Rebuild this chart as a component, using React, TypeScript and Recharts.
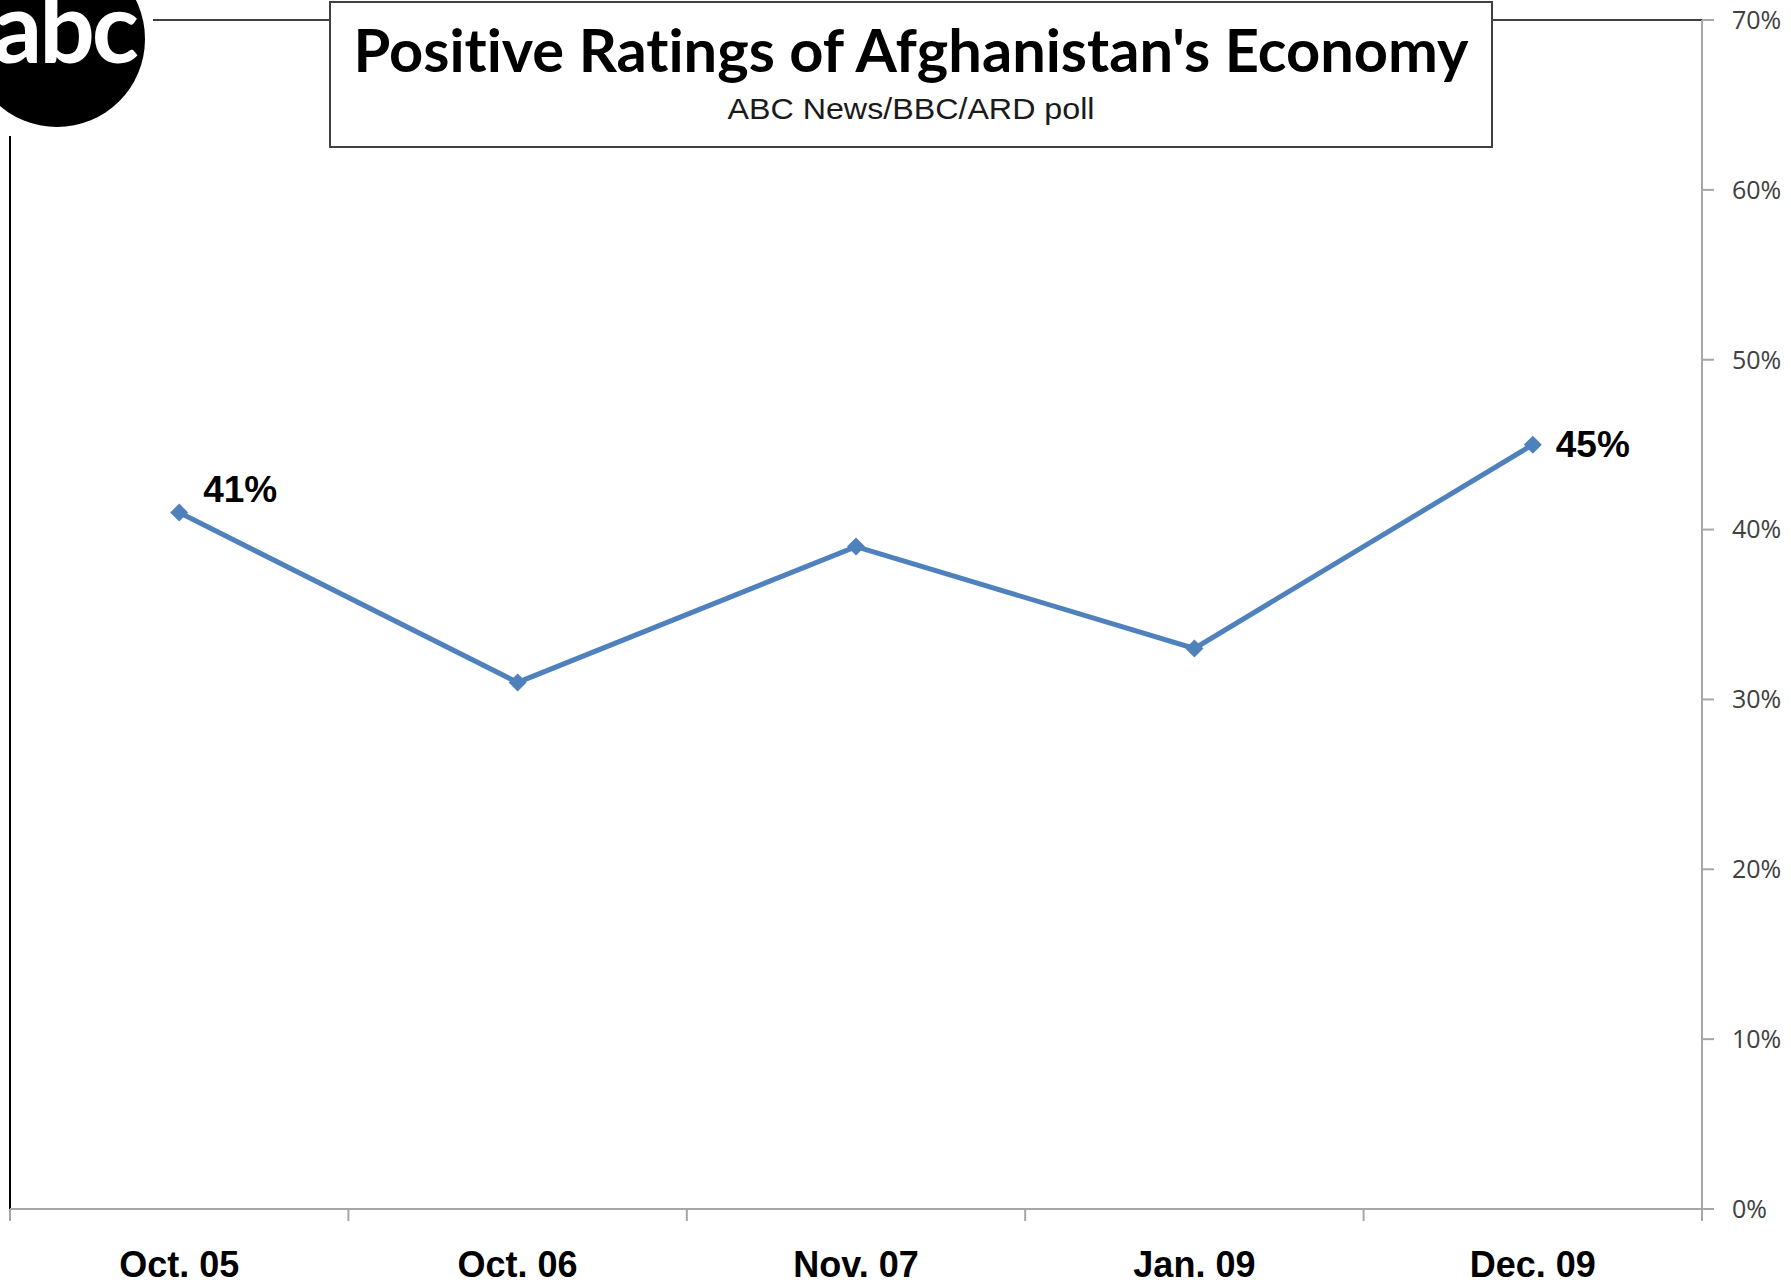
import { LabelList, Line, LineChart, ReferenceLine, XAxis, YAxis } from 'recharts';

const categories = ['Oct. 05', 'Oct. 06', 'Nov. 07', 'Jan. 09', 'Dec. 09'];
const positive = [41, 31, 39, 33, 45];
const yTicks = [0, 10, 20, 30, 40, 50, 60, 70];

// categories sit in the middle of each band, tick marks sit on the band edges
const chartData = categories.map((c, i) => ({ cat: c, pos: i + 0.5, valor: positive[i] }));
const xTicks = categories.flatMap((_, i) => [i, i + 0.5]).concat([categories.length]);

const azul = '#4f81bd';
const cinza = '#a6a6a6';

const XTick = (props: any) => {
  const { x, y, payload } = props;
  const v = payload.value;
  if (Number.isInteger(v)) {
    return <line x1={x} x2={x} y1={y} y2={y + 12} stroke={cinza} strokeWidth={2} />;
  }
  return (
    <text x={x} y={y + 68} textAnchor="middle" fontFamily="'Liberation Sans', Arial" fontWeight={700} fontSize={36} fill="#000">
      {categories[Math.floor(v)]}
    </text>
  );
};

const Diamante = (props: any) => {
  const { cx, cy, index } = props;
  const r = 9;
  return <polygon key={index} points={`${cx},${cy - r} ${cx + r},${cy} ${cx},${cy + r} ${cx - r},${cy}`} fill={azul} />;
};

const Rotulo = (props: any) => {
  const { x, y, value, index } = props;
  if (index === 0) {
    return (
      <text x={x + 24} y={y - 23} dominantBaseline="central" fontFamily="'Liberation Sans', Arial" fontWeight={700} fontSize={37} fill="#000">
        {value}%
      </text>
    );
  }
  if (index === chartData.length - 1) {
    return (
      <text x={x + 23} y={y} dominantBaseline="central" fontFamily="'Liberation Sans', Arial" fontWeight={700} fontSize={37} fill="#000">
        {value}%
      </text>
    );
  }
  return null;
};

const App = () => {
  return (
    <div style={{ position: 'absolute', left: 0, top: 0, width: 1791, height: 1287, background: '#fff' }}>
      <LineChart width={1791} height={1287} data={chartData} margin={{ top: 20, right: 0, left: 10, bottom: 0 }}>
        <XAxis
          dataKey="pos"
          type="number"
          domain={[0, categories.length]}
          ticks={xTicks}
          interval={0}
          height={78}
          tickSize={0}
          tickMargin={0}
          tickLine={false}
          axisLine={{ stroke: cinza, strokeWidth: 2 }}
          tick={<XTick />}
        />
        <YAxis
          orientation="right"
          type="number"
          domain={[0, 70]}
          ticks={yTicks}
          width={89}
          tickSize={12}
          tickMargin={18}
          tickFormatter={(v) => `${v}%`}
          axisLine={{ stroke: cinza, strokeWidth: 2 }}
          tickLine={{ stroke: cinza, strokeWidth: 2 }}
          tick={{ fill: '#404040', fontSize: 25, fontFamily: "'Open Sans'" }}
        />
        <ReferenceLine y={70} stroke="#404040" strokeWidth={2} />
        <ReferenceLine x={0} stroke="#000" strokeWidth={2} />
        <Line
          type="linear"
          dataKey="valor"
          stroke={azul}
          strokeWidth={5}
          dot={<Diamante />}
          activeDot={false}
          isAnimationActive={false}
        >
          <LabelList dataKey="valor" content={<Rotulo />} />
        </Line>
      </LineChart>

      <svg width={1791} height={1287} style={{ position: 'absolute', left: 0, top: 0, pointerEvents: 'none' }}>
        {/* logo abc */}
        <rect x={0} y={0} width={153} height={136} fill="#fff" />
        <circle cx={57} cy={39} r={88} fill="#000" />
        <text x={136} y={63} textAnchor="end" fontFamily="Lato" fontWeight={700} fontSize={98} letterSpacing={-3} fill="#fff">
          abc
        </text>
        {/* caixa do titulo */}
        <rect x={330} y={2} width={1162} height={145} fill="#fff" stroke="#404040" strokeWidth={2} />
        <text x={911} y={72} textAnchor="middle" fontFamily="Lato" fontWeight={700} fontSize={60} textLength={1115} lengthAdjust="spacingAndGlyphs" style={{ fontVariantLigatures: 'none' }} fill="#000">
          Positive Ratings of Afghanistan's Economy
        </text>
        <text x={911} y={119} textAnchor="middle" fontFamily="'Liberation Sans', Arial" fontSize={30} textLength={367} lengthAdjust="spacingAndGlyphs" fill="#1a1a1a">
          ABC News/BBC/ARD poll
        </text>
      </svg>
    </div>
  );
};

export default App;
